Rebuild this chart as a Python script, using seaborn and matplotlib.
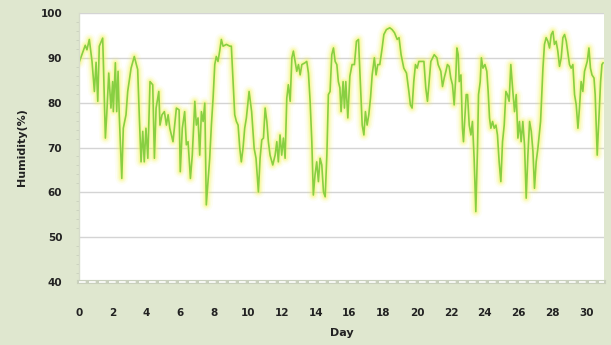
import matplotlib
matplotlib.use("Agg")
import matplotlib.pyplot as plt
import seaborn as sns
import numpy as np

# Relative humidity over a month of observations
day = [
    0.00, 0.37, 0.47, 0.61, 0.77, 0.91, 1.01, 1.11, 1.20, 1.40, 1.44, 1.56, 1.64, 1.76, 1.89,
    1.99, 2.03, 2.15, 2.23, 2.31, 2.38, 2.53, 2.62, 2.78, 2.88, 3.08, 3.27, 3.47, 3.57, 3.67,
    3.77, 3.86, 3.96, 4.07, 4.20, 4.36, 4.46, 4.56, 4.72, 4.79, 4.91, 5.05, 5.17, 5.27, 5.37,
    5.56, 5.76, 5.92, 5.99, 6.11, 6.25, 6.35, 6.45, 6.59, 6.70, 6.85, 6.94, 7.04, 7.14, 7.24,
    7.34, 7.44, 7.53, 7.73, 7.83, 7.93, 8.03, 8.12, 8.22, 8.32, 8.42, 8.52, 8.72, 8.92, 9.01,
    9.11, 9.21, 9.31, 9.41, 9.51, 9.60, 9.70, 9.80, 9.90, 10.06, 10.21, 10.36, 10.47, 10.61, 10.71,
    10.81, 10.91, 11.01, 11.11, 11.20, 11.30, 11.46, 11.60, 11.70, 11.79, 11.89, 11.99, 12.09, 12.19, 12.29,
    12.38, 12.49, 12.59, 12.68, 12.78, 12.88, 12.98, 13.08, 13.18, 13.37, 13.47, 13.57, 13.67, 13.77, 13.86,
    13.96, 14.06, 14.16, 14.26, 14.36, 14.46, 14.56, 14.66, 14.75, 14.85, 14.95, 15.05, 15.15, 15.25, 15.34,
    15.43, 15.50, 15.62, 15.70, 15.78, 15.90, 16.02, 16.15, 16.29, 16.41, 16.53, 16.64, 16.75, 16.85, 16.94,
    17.04, 17.14, 17.24, 17.34, 17.47, 17.57, 17.67, 17.79, 17.93, 18.03, 18.18, 18.38, 18.52, 18.66, 18.82,
    18.93, 19.05, 19.21, 19.37, 19.51, 19.60, 19.70, 19.80, 19.90, 20.00, 20.10, 20.20, 20.40, 20.51, 20.61,
    20.71, 20.81, 21.01, 21.17, 21.24, 21.40, 21.50, 21.60, 21.70, 21.79, 21.89, 21.99, 22.09, 22.19, 22.29,
    22.35, 22.43, 22.49, 22.59, 22.68, 22.74, 22.82, 22.90, 22.98, 23.08, 23.18, 23.27, 23.37, 23.47, 23.57,
    23.63, 23.73, 23.80, 23.89, 24.01, 24.12, 24.20, 24.28, 24.36, 24.46, 24.56, 24.66, 24.75, 24.85, 24.95,
    25.05, 25.15, 25.25, 25.34, 25.44, 25.54, 25.66, 25.76, 25.86, 25.96, 26.05, 26.15, 26.25, 26.35, 26.45,
    26.55, 26.65, 26.75, 26.85, 26.94, 27.04, 27.14, 27.30, 27.44, 27.53, 27.63, 27.73, 27.83, 27.93, 28.03,
    28.12, 28.22, 28.32, 28.42, 28.52, 28.62, 28.72, 28.82, 29.01, 29.11, 29.21, 29.31, 29.41, 29.51, 29.60,
    29.70, 29.80, 29.90, 30.06, 30.16, 30.25, 30.34, 30.46, 30.53, 30.65, 30.73, 30.85, 30.93, 31.00,
]

humidity = [
    88.9, 92.8, 91.8, 94.1, 89.2, 82.5, 89.0, 80.3, 92.6, 94.4, 89.2, 72.1, 77.3, 86.6, 78.8,
    84.7, 78.0, 88.9, 78.0, 87.0, 77.3, 63.1, 74.3, 77.3, 82.5, 87.7, 90.3, 87.4, 76.6, 66.8,
    73.6, 66.8, 74.3, 67.6, 84.7, 84.0, 67.6, 78.8, 82.5, 75.0, 77.3, 78.0, 75.0, 77.3, 74.3,
    71.3, 78.8, 78.4, 64.6, 74.3, 78.0, 70.6, 71.3, 63.1, 68.3, 80.3, 75.0, 76.6, 68.3, 78.0,
    75.8, 79.9, 57.2, 67.6, 75.0, 81.0, 88.5, 90.3, 89.2, 91.5, 94.1, 92.6, 93.0, 92.6, 92.6,
    84.7, 77.3, 75.8, 75.0, 69.8, 66.8, 69.8, 74.3, 76.6, 82.5, 78.0, 69.8, 67.6, 60.1, 67.6,
    71.7, 72.1, 78.8, 75.8, 71.3, 68.3, 66.1, 68.3, 71.3, 66.8, 72.8, 68.3, 72.1, 67.6, 81.0,
    84.0, 80.3, 90.0, 91.5, 89.2, 87.0, 88.5, 86.2, 88.5, 88.9, 89.2, 86.6, 80.3, 71.3, 59.4,
    63.9, 66.8, 62.4, 67.6, 66.1, 60.1, 59.0, 68.3, 81.8, 82.5, 90.7, 92.2, 89.2, 88.5, 84.7,
    83.3, 78.0, 84.7, 78.8, 84.7, 76.6, 85.9, 88.5, 88.5, 93.7, 94.1, 84.7, 75.0, 72.8, 78.0,
    75.0, 77.3, 81.0, 86.2, 90.0, 86.2, 88.5, 88.5, 92.2, 95.2, 96.3, 96.7, 96.3, 95.6, 94.1,
    94.5, 90.7, 87.7, 86.6, 82.5, 79.5, 78.8, 84.7, 88.5, 87.7, 89.2, 89.2, 89.2, 83.3, 80.3,
    84.7, 89.2, 90.7, 90.0, 88.5, 87.0, 83.6, 85.5, 87.0, 88.5, 88.1, 85.5, 84.0, 79.5, 86.2,
    92.2, 90.7, 84.7, 86.2, 74.3, 71.3, 76.6, 81.8, 81.8, 75.0, 72.8, 75.8, 67.6, 55.7, 69.8,
    81.8, 84.7, 90.0, 87.7, 88.5, 87.0, 82.5, 76.6, 74.3, 75.8, 74.3, 75.0, 72.8, 66.8, 62.4,
    71.3, 75.0, 82.5, 81.8, 80.3, 88.5, 82.5, 78.0, 81.8, 72.1, 75.8, 71.3, 75.8, 70.6, 58.7,
    68.3, 75.8, 73.6, 69.1, 60.9, 66.8, 69.8, 75.8, 87.7, 93.0, 94.5, 93.7, 92.2, 95.2, 95.9,
    93.0, 93.7, 91.5, 88.1, 90.0, 94.5, 95.2, 93.7, 88.5, 87.7, 88.5, 81.8, 79.5, 74.3, 78.8,
    84.7, 82.5, 87.0, 89.2, 92.2, 87.7, 86.2, 85.5, 81.8, 68.3, 75.0, 84.7, 88.5, 88.9,
]

x_ticks = list(range(0, 32, 2))
y_ticks = [40, 50, 60, 70, 80, 90, 100]

BG = "#dfe7cf"
LINE = "#88cf42"
GLOW = "#f4f450"

sns.set_theme(style="white")
plt.rcParams["font.family"] = ["DejaVu Sans"]

fig = plt.figure(figsize=(6.11, 3.45), dpi=100, facecolor=BG)
ax = fig.add_axes([0.1293, 0.1826, 0.8592, 0.7797])
ax.set_facecolor("white")

# soft yellow halo beneath the trace
for lw, a in [(9, 0.07), (6.5, 0.12), (4.5, 0.18), (3, 0.25)]:
    sns.lineplot(x=day, y=humidity, ax=ax, color=GLOW, lw=lw, alpha=a,
                 estimator=None, sort=False, solid_joinstyle="round",
                 solid_capstyle="round")
sns.lineplot(x=day, y=humidity, ax=ax, color=LINE, lw=1.2,
             estimator=None, sort=False, solid_joinstyle="round")

ax.set_xlim(0, 31.05)
ax.set_ylim(40, 100)
ax.set_xticks(x_ticks)
ax.set_yticks(y_ticks)
ax.set_xticklabels([str(t) for t in x_ticks])
ax.set_yticklabels([str(t) for t in y_ticks])
ax.yaxis.set_minor_locator(matplotlib.ticker.MultipleLocator(2))

ax.grid(axis="y", color="#d4d4d4", lw=1.0)
ax.set_axisbelow(True)

for side in ["top", "right"]:
    ax.spines[side].set_visible(False)
ax.spines["left"].set_color("#d6dccb")
ax.spines["left"].set_linewidth(1.0)
ax.spines["bottom"].set_color("#c9d0bd")
ax.spines["bottom"].set_linewidth(3.0)
ax.axhline(40, color="white", lw=1.2, ls=(0, (4, 2)), clip_on=False, zorder=5)

ax.tick_params(axis="y", which="major", length=4, width=0.8, color="#c9d0bd",
               labelsize=7.5, labelcolor="#222222", pad=8)
ax.tick_params(axis="y", which="minor", length=2, width=0.6, color="#c9d0bd", left=True)
ax.tick_params(axis="x", which="major", length=3, width=0.8, color="#c9d0bd",
               labelsize=7.5, labelcolor="#222222", pad=16)
for lab in ax.get_xticklabels() + ax.get_yticklabels():
    lab.set_fontweight("bold")

ax.set_xlabel("Day", fontsize=8, fontweight="bold", color="#222222", labelpad=7)
ax.set_ylabel("Humidity(%)", fontsize=8, fontweight="bold", color="#222222", labelpad=10)

fig.savefig("out.png", dpi=100, facecolor=BG)
